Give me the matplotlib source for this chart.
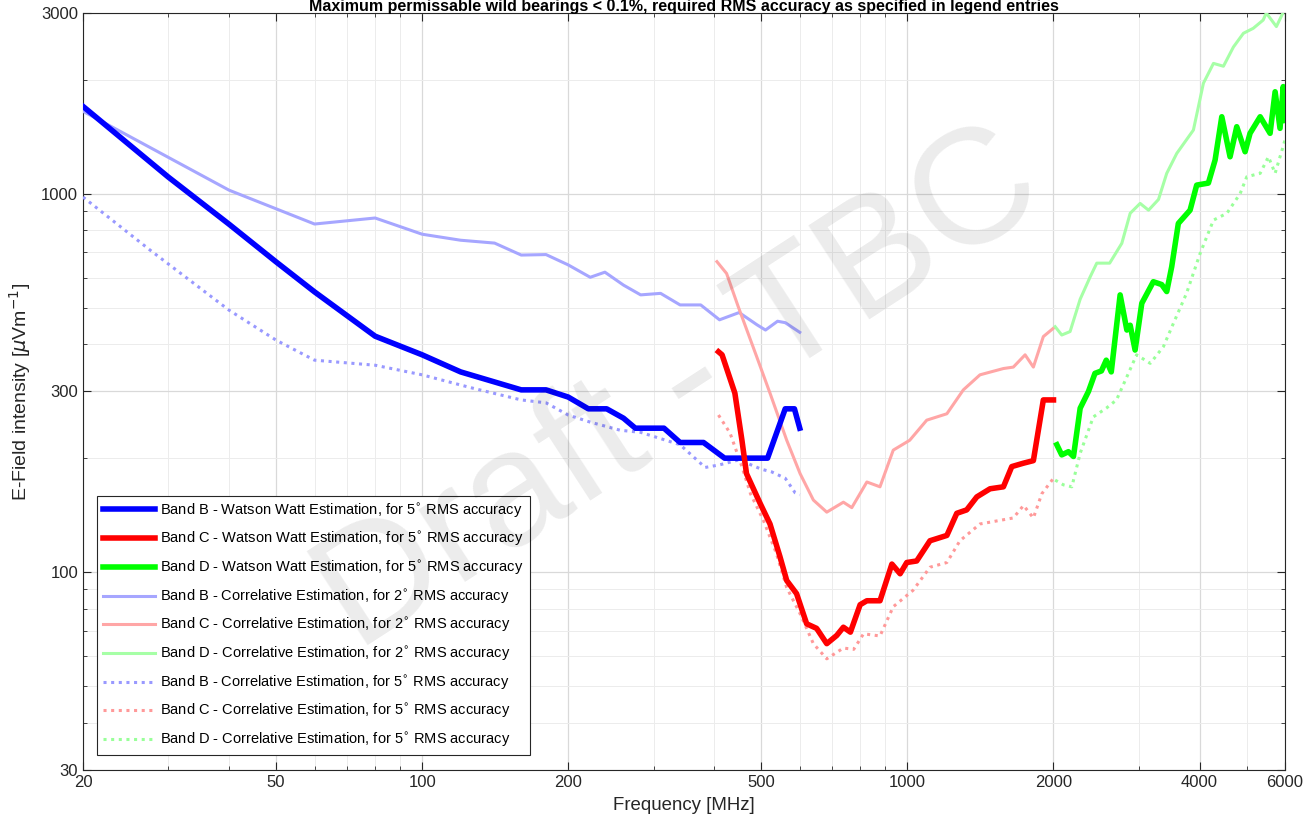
import matplotlib
matplotlib.use('Agg')
import matplotlib.pyplot as plt
from matplotlib.ticker import FixedLocator, NullFormatter, LogLocator

plt.rcParams['font.family'] = ['Liberation Sans', 'DejaVu Sans']

# Band B (20-600 MHz)
b_ww_f = [20, 30, 40, 50, 60, 80, 100, 120, 160, 180, 200, 220, 240, 260, 275, 315, 340, 380, 420, 515, 560, 585, 600]
b_ww_v = [1700, 1105, 830, 660, 550, 420, 375, 338, 303, 303, 290, 270, 270, 255, 240, 240, 220, 220, 200, 200, 270, 270, 240]

b_c2_f = [20, 40, 60, 80, 100, 120, 141, 160, 180, 200, 222, 238, 260, 282, 310, 340, 375, 410, 450, 490, 510, 540, 560, 600]
b_c2_v = [1650, 1021, 831, 862, 781, 753, 740, 688, 690, 648, 601, 620, 573, 540, 545, 508, 508, 464, 485, 450, 436, 460, 456, 430]

b_c5_f = [20, 27.5, 40, 50, 60, 80, 100, 126, 160, 180, 200, 222, 256, 282, 340, 383, 410, 450, 500, 525, 560, 587, 600]
b_c5_v = [979, 709, 492, 410, 363, 352, 332, 307, 285, 280, 260, 249, 237, 234, 217, 189, 192, 198, 187, 184, 177, 162, 160]

# Band C (400-2000 MHz)
c_ww_f = [408, 415, 441, 456, 466, 497, 521, 546, 564, 591, 620, 650, 682, 715, 738, 763, 799, 825, 878, 929, 966, 997,
          1045, 1113, 1206, 1264, 1325, 1390, 1480, 1577, 1641, 1735, 1818, 1906, 2000]
c_ww_v = [382, 375, 297, 223, 182, 152, 134, 110, 95, 87.7, 73, 71, 64.7, 68, 71.5, 69.4, 82, 84, 84, 105, 99, 106,
          107, 121, 125, 143, 146, 158, 166, 168, 190, 194, 197, 285, 285]

c_c2_f = [405, 424, 448, 489, 521, 564, 601, 640, 682, 738, 768, 825, 878, 935, 1011, 1096, 1206, 1304, 1411, 1577,
          1653, 1748, 1818, 1906, 2000]
c_c2_v = [661, 615, 503, 371, 297, 223, 182, 155, 144, 153, 148, 173, 168, 210, 223, 252, 262, 303, 332, 345,
          348, 375, 348, 419, 441]

c_c5_f = [408, 431, 456, 475, 505, 537, 564, 601, 640, 682, 738, 775, 812, 878, 935, 1027, 1113, 1206, 1283, 1411,
          1552, 1653, 1735, 1818, 1892, 2000]
c_c5_v = [260, 233, 190, 161, 137, 112, 91, 77.6, 64.7, 59, 63, 62.5, 68.7, 67.8, 81, 89.5, 103, 106, 121, 134,
          137, 139, 150, 139, 161, 177]

# Band D (2000-6000 MHz)
d_ww_f = [2032, 2080, 2147, 2199, 2270, 2361, 2435, 2511, 2569, 2631, 2744, 2833, 2878, 2946, 3041, 3212, 3342,
          3423, 3505, 3617, 3824, 3946, 4171, 4306, 4445, 4623, 4772, 4965, 5083, 5333, 5590, 5725, 5860, 5950, 6000]
d_ww_v = [217, 204, 208, 202, 271, 300, 335, 340, 363, 338, 540, 436, 449, 386, 513, 585, 575,
          551, 641, 834, 904, 1053, 1066, 1226, 1596, 1251, 1502, 1290, 1443, 1596, 1443, 1858, 1487, 1917, 1560]

d_c2_f = [2016, 2080, 2164, 2270, 2381, 2456, 2611, 2766, 2878, 3017, 3140, 3292, 3423, 3590, 3885, 4074, 4273,
          4480, 4697, 4926, 5160, 5410, 5490, 5760, 5940, 6000]
d_c2_v = [445, 423, 432, 526, 603, 655, 655, 739, 887, 942, 904, 965, 1131, 1277, 1472, 1957, 2208,
          2170, 2439, 2652, 2733, 2874, 3000, 2762, 3000, 3150]

d_c5_f = [2016, 2097, 2182, 2270, 2416, 2569, 2697, 2833, 2967, 3166, 3369, 3533, 3760, 4011, 4273, 4554, 4850,
          5005, 5333, 5546, 5725, 6000]
d_c5_v = [175, 170, 168, 206, 257, 271, 285, 328, 375, 356, 394, 454, 545, 695, 851, 887, 1000,
          1108, 1131, 1251, 1131, 1385]

x_ticks = [20, 50, 100, 200, 500, 1000, 2000, 4000, 6000]
y_ticks = [30, 100, 300, 1000, 3000]

fig = plt.figure(figsize=(13.15, 8.36), dpi=100)
ax = fig.add_axes([83 / 1315, 1 - 770 / 836, 1202 / 1315, 757 / 836])

lbl_ww = ' - Watson Watt Estimation, for 5$^{\\circ}$ RMS accuracy'
lbl_c2 = ' - Correlative Estimation, for 2$^{\\circ}$ RMS accuracy'
lbl_c5 = ' - Correlative Estimation, for 5$^{\\circ}$ RMS accuracy'

ax.plot(b_ww_f, b_ww_v, color=(0, 0, 1), lw=4, label='Band B' + lbl_ww, zorder=5)
ax.plot(c_ww_f, c_ww_v, color=(1, 0, 0), lw=4, label='Band C' + lbl_ww, zorder=5)
ax.plot(d_ww_f, d_ww_v, color=(0, 1, 0), lw=4, label='Band D' + lbl_ww, zorder=5)
ax.plot(b_c2_f, b_c2_v, color=(0.65, 0.65, 1), lw=2.2, label='Band B' + lbl_c2, zorder=4)
ax.plot(c_c2_f, c_c2_v, color=(1, 0.65, 0.65), lw=2.2, label='Band C' + lbl_c2, zorder=4)
ax.plot(d_c2_f, d_c2_v, color=(0.65, 1, 0.65), lw=2.2, label='Band D' + lbl_c2, zorder=4)
ax.plot(b_c5_f, b_c5_v, color=(0.6, 0.6, 1), lw=2.2, ls=(0, (1, 1.5)), label='Band B' + lbl_c5, zorder=4)
ax.plot(c_c5_f, c_c5_v, color=(1, 0.6, 0.6), lw=2.2, ls=(0, (1, 1.5)), label='Band C' + lbl_c5, zorder=4)
ax.plot(d_c5_f, d_c5_v, color=(0.6, 1, 0.6), lw=2.2, ls=(0, (1, 1.5)), label='Band D' + lbl_c5, zorder=4)

ax.set_xscale('log')
ax.set_yscale('log')
ax.set_xlim(20, 6000)
ax.set_ylim(30, 3000)

ax.xaxis.set_major_locator(FixedLocator(x_ticks))
ax.set_xticklabels([str(t) for t in x_ticks])
ax.yaxis.set_major_locator(FixedLocator(y_ticks))
ax.set_yticklabels([str(t) for t in y_ticks])
ax.xaxis.set_minor_locator(LogLocator(base=10, subs=range(2, 10)))
ax.yaxis.set_minor_locator(LogLocator(base=10, subs=range(2, 10)))
ax.xaxis.set_minor_formatter(NullFormatter())
ax.yaxis.set_minor_formatter(NullFormatter())

ax.tick_params(which='both', direction='in', top=True, right=True, colors='#262626', labelsize=12)
ax.tick_params(which='major', length=6)
ax.tick_params(which='minor', length=3)
ax.grid(True, which='major', color='#d9d9d9', lw=0.9)
ax.grid(True, which='minor', color='#ececec', lw=0.7)
for s in ax.spines.values():
    s.set_color('#262626')
    s.set_linewidth(0.8)

ax.set_xlabel('Frequency [MHz]', fontsize=13.4, color='#262626', labelpad=5)
ax.set_ylabel('E-Field intensity [$\\mu$Vm$^{-1}$]', fontsize=14, color='#262626', labelpad=6)

leg = ax.legend(loc='lower left', bbox_to_anchor=(14 / 1202, 15 / 757), borderaxespad=0,
                fontsize=10.5, handlelength=3.6, handletextpad=0.35, labelspacing=0.72,
                fancybox=False, framealpha=1, edgecolor='#262626')
leg.get_frame().set_linewidth(0.8)

# title sits right at the top edge, as in the source image
fig.text(0.52, 1 - 11 / 836, 'Maximum permissable wild bearings < 0.1%, required RMS accuracy as specified in legend entries',
         ha='center', va='baseline', fontsize=11.5, fontweight='bold')

fig.text(680 / 1315, 1 - 392 / 836, 'Draft - TBC', rotation=33, ha='center', va='center',
         fontsize=118, color='#000000', alpha=0.08, zorder=20)

fig.savefig('out.png', dpi=100)
